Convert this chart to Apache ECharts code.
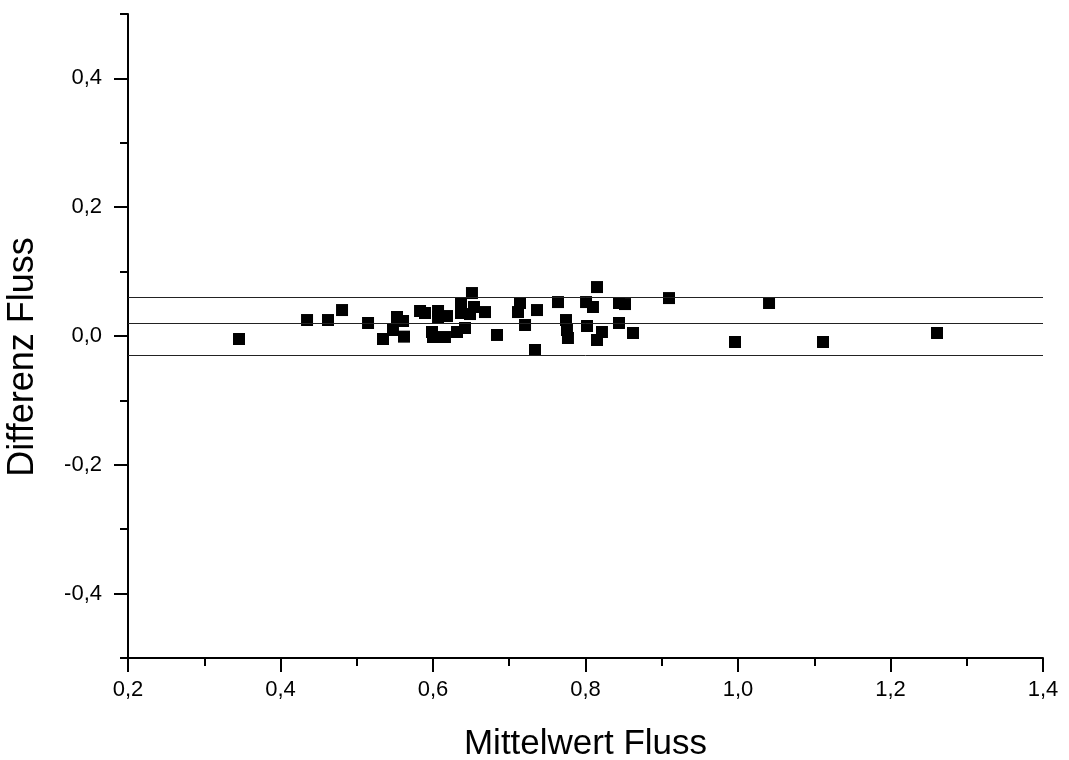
<!DOCTYPE html>
<html>
<head>
<meta charset="utf-8">
<script src="https://cdn.jsdelivr.net/npm/echarts@6/dist/echarts.min.js"></script>
<style>html,body{margin:0;padding:0;background:#fff;}#c{width:1069px;height:760px;}</style>
</head>
<body>
<div id="c"></div>
<script>
var meanFlow = [0.3456,0.4348,0.4623,0.4807,0.5148,0.5344,0.5475,0.5528,0.5607,0.5620,
  0.5830,0.5895,0.5987,0.6000,0.6066,0.6066,0.6184,0.6157,0.6315,0.6367,
  0.6420,0.6367,0.6511,0.6538,0.6485,0.6682,0.6839,0.7141,0.7115,0.7207,
  0.7364,0.7338,0.7639,0.7744,0.7757,0.7770,0.8007,0.8098,0.8020,0.8151,
  0.8151,0.8216,0.8439,0.8518,0.8439,0.8623,0.9095,0.9961,1.0407,1.1115,1.2610];
var diffFlow = [-0.0047,0.0248,0.0248,0.0403,0.0202,-0.0047,0.0093,0.0295,0.0233,-0.0010,
  0.0388,0.0357,0.0062,-0.0016,0.0388,0.0295,0.0310,-0.0016,0.0062,0.0512,
  0.0124,0.0357,0.0667,0.0450,0.0341,0.0372,0.0016,0.0512,0.0372,0.0171,
  0.0403,-0.0217,0.0527,0.0248,0.0093,-0.0031,0.0527,0.0450,0.0155,0.0760,
  -0.0062,0.0062,0.0512,0.0496,0.0202,0.0047,0.0589,-0.0093,0.0512,-0.0093,0.0047];
var refLines = [0.0647, 0.0171, -0.0310];
var yMajorTicks = [-0.4, -0.2, 0, 0.2, 0.4];

var points = meanFlow.map(function (x, i) { return [x, diffFlow[i]]; });
function fmt(v) { return (Math.round(v * 10) / 10).toFixed(1).replace('.', ','); }
var font = 'Liberation Sans, Arial, sans-serif';

var chart = echarts.init(document.getElementById('c'), null, {renderer: 'canvas'});
chart.setOption({
  animation: false,
  backgroundColor: '#fff',
  grid: {left: 128, right: 26, top: 14, bottom: 102, containLabel: false, outerBoundsMode: 'none'},
  xAxis: {
    type: 'value', min: 0.2, max: 1.4, interval: 0.2,
    name: 'Mittelwert Fluss', nameLocation: 'middle', nameGap: 69,
    nameTextStyle: {fontFamily: font, fontSize: 35, color: '#000'},
    axisLine: {show: true, onZero: false, lineStyle: {color: '#000', width: 2}},
    axisTick: {show: true, inside: false, length: 14, lineStyle: {color: '#000', width: 2}},
    minorTick: {show: true, splitNumber: 2, length: 8, lineStyle: {color: '#000', width: 2}},
    axisLabel: {fontFamily: font, fontSize: 22, color: '#000', margin: 21, formatter: fmt},
    splitLine: {show: false}
  },
  yAxis: [{
    type: 'value', min: -0.5, max: 0.5, interval: 0.1, position: 'left',
    name: 'Differenz Fluss', nameLocation: 'middle', nameGap: 87,
    nameTextStyle: {fontFamily: font, fontSize: 36, color: '#000', padding: [0, 42, 0, 0]},
    axisLine: {show: true, onZero: false, lineStyle: {color: '#000', width: 2}},
    axisTick: {show: true, length: 8, lineStyle: {color: '#000', width: 2}},
    axisLabel: {show: false},
    splitLine: {show: false}
  }, {
    type: 'value', min: -0.5, max: 0.5, interval: 0.1, position: 'left',
    axisLine: {show: false},
    axisTick: {show: true, length: 14, customValues: yMajorTicks, lineStyle: {color: '#000', width: 2}},
    axisLabel: {show: true, customValues: yMajorTicks, fontFamily: font, fontSize: 22, color: '#000', margin: 26, formatter: fmt},
    splitLine: {show: false}
  }],
  series: [{
    type: 'scatter',
    yAxisIndex: 0,
    data: points,
    symbol: 'rect',
    symbolSize: 12,
    itemStyle: {color: '#000', opacity: 1},
    markLine: {
      silent: true,
      symbol: ['none', 'none'],
      label: {show: false},
      lineStyle: {color: '#222', width: 1, type: 'solid'},
      data: refLines.map(function (v) { return {yAxis: v}; })
    },
    z: 3
  }]
});
</script>
</body>
</html>
